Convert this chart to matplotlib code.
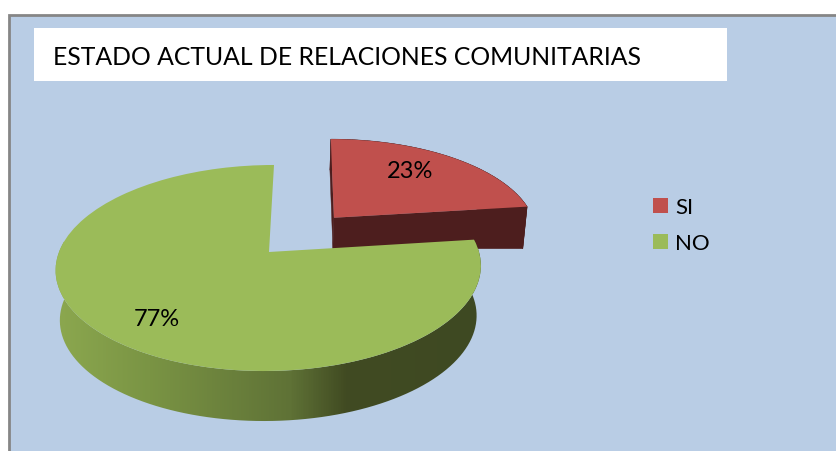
import numpy as np
import matplotlib
matplotlib.use("Agg")
import matplotlib.pyplot as plt
from matplotlib.patches import Rectangle, Polygon
from matplotlib.path import Path
from matplotlib.transforms import Transform
from matplotlib.colors import LinearSegmentedColormap

title = "ESTADO ACTUAL DE RELACIONES COMUNITARIAS"
categories = ["SI", "NO"]
values = [23, 77]
explode = [0.48, 0]
colors = ["#C0504D", "#9BBB59"]

plt.rcParams["font.family"] = ["Lato", "DejaVu Sans"]


class Persp(Transform):
    """Perspective view of the pie plane, returning pixel-like data coordinates."""
    input_dims = 2
    output_dims = 2
    is_affine = False
    has_inverse = False

    def __init__(self, sx=1.0, d0=0.0, du=0.0):
        super().__init__()
        self.sx, self.d0, self.du = sx, d0, du

    def transform_non_affine(self, values):
        p = np.asarray(values, dtype=float)
        u, v = p[:, 0], p[:, 1]
        w = 1 + 0.1553 * v
        x = 269 + 5 * v + self.sx * 210 * u / w
        y = (252 - 61.4 * v) / w + self.d0 + self.du * u
        return np.column_stack([x, y])


fig = plt.figure(figsize=(8.36, 4.51), dpi=100)
ax = fig.add_axes([0, 0, 1, 1])
fig.patch.set_facecolor("white")

wedges, _, autotexts = ax.pie(
    values, explode=explode, colors=colors, startangle=90, counterclock=False,
    radius=1, autopct="%.0f%%", pctdistance=0.74,
    wedgeprops={"linewidth": 0}, textprops={"fontsize": 17, "color": "black"},
)
ax.set_aspect("auto")
ax.axis("off")

top = Persp()
base_red = Persp(sx=0.983, d0=27.3, du=11.3)
base_green = Persp(sx=0.98, d0=50)


def arc(w, t1, t2, n=200):
    t = np.radians(np.linspace(t1, t2, n))
    return np.column_stack([w.center[0] + w.r * np.cos(t), w.center[1] + w.r * np.sin(t)])


# background panel and title box
ax.add_patch(Rectangle((9, 15), 840, 450, fc="#B9CDE5", ec="#868686", lw=2, zorder=0))
ax.add_patch(Rectangle((34, 28), 693, 53, fc="white", ec="none", zorder=1))
ax.text(53, 57.5, title, fontsize=17.85, va="center", ha="left", color="black", zorder=2)

# red slice: extruded faces
red, green = wedges
outline = np.vstack([[red.center], arc(red, red.theta1, red.theta2)])
t_pts = top.transform(outline)
b_pts = base_red.transform(outline)
for i in range(len(outline)):
    j = (i + 1) % len(outline)
    ax.add_patch(Polygon([t_pts[i], t_pts[j], b_pts[j], b_pts[i]], closed=True,
                         fc="#4D1E1E", ec="#4D1E1E", lw=0.3, zorder=3))
red.set_transform(top + ax.transData)
red.set_zorder(4)

# green slice: rim with a horizontal shading
rim = arc(green, -186, green.theta2)
band = np.vstack([top.transform(rim), base_green.transform(rim)[::-1]])
shade = LinearSegmentedColormap.from_list(
    "rim", [(0.0, "#8CA84F"), (0.22, "#7A9444"), (0.55, "#5F7236"),
            (0.68, "#414B22"), (1.0, "#3E4922")])
grad = np.linspace(0, 1, 430).reshape(1, -1)
im = ax.imshow(grad, cmap=shade, extent=(54, 484, 440, 230), aspect="auto", zorder=5)
im.set_clip_path(Path(band, closed=False), transform=ax.transData)
green.set_transform(top + ax.transData)
green.set_zorder(6)

autotexts[0].set_position((0.74, 0.91))
autotexts[1].set_position((-0.47, -0.605))
for t in autotexts:
    t.set_transform(top + ax.transData)
    t.set_zorder(7)

leg = ax.legend(
    wedges, categories, loc="upper left", bbox_to_anchor=(646.5 / 836, 1 - 191 / 451),
    frameon=False, fontsize=16, handlelength=0.66, handleheight=0.66,
    handletextpad=0.33, labelspacing=0.72, borderpad=0.3, borderaxespad=0,
)

ax.set_xlim(0, 836)
ax.set_ylim(451, 0)
fig.savefig("out.png", dpi=100)
